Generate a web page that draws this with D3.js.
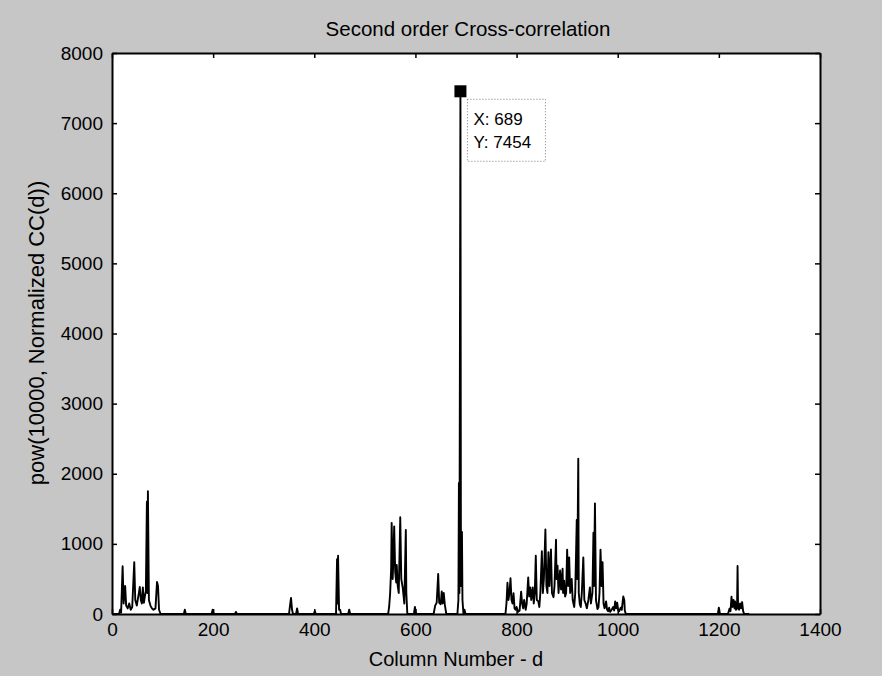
<!DOCTYPE html>
<html>
<head>
<meta charset="utf-8">
<script src="https://cdn.jsdelivr.net/npm/d3@7"></script>
<style>
  html, body { margin: 0; padding: 0; background: #c6c6c6; }
  svg text { font-family: "Liberation Sans", Arial, sans-serif; fill: #000; }
</style>
</head>
<body>
<figure id="cc" style="margin:0"></figure>
<script>
// column number d and pow(10000, normalized CC(d)), one small list per region
const leftD = [1, 14, 16, 18, 21, 23, 26, 28, 31, 34, 37, 40, 44, 46, 49, 52, 55, 57, 59, 61, 63, 65, 67, 69, 70, 71, 73, 76, 79, 82, 86, 89, 91, 93, 96];
const leftV = [0, 0, 60, 20, 680, 150, 400, 120, 80, 150, 60, 100, 740, 200, 120, 250, 385, 200, 150, 380, 160, 250, 330, 1600, 300, 1750, 200, 120, 80, 60, 80, 456, 400, 60, 0];

const lowD = [142, 144, 146, 197, 199, 201, 243, 245, 247, 350, 352, 354, 356, 358, 364, 366, 368, 399, 401, 403, 443, 445, 446, 447, 449, 451, 453, 467, 469, 471];
const lowV = [0, 60, 0, 0, 60, 0, 0, 30, 0, 0, 120, 230, 60, 0, 0, 80, 0, 0, 40, 0, 0, 780, 150, 830, 60, 60, 0, 0, 60, 0];

const midD = [546, 548, 550, 552, 553, 555, 556, 558, 560, 562, 563, 565, 567, 570, 572, 575, 578, 581, 582, 584, 597, 599, 601, 636, 639, 642, 645, 647, 650, 652, 654, 656, 658, 661];
const midV = [0, 100, 300, 650, 1300, 500, 700, 1250, 600, 450, 700, 400, 300, 1380, 500, 370, 150, 1200, 300, 0, 0, 100, 0, 0, 120, 160, 570, 160, 140, 320, 150, 300, 140, 0];

const peakD = [683, 685, 686, 687, 689, 690, 692, 693, 695, 697, 699];
const peakV = [0, 200, 1870, 300, 7454, 400, 1170, 200, 0, 60, 0];

const clusterD = [778, 780, 782, 784, 786, 788, 790, 792, 794, 796, 798, 800, 803, 806, 809, 811, 813, 815, 818, 820, 823, 825, 827, 829, 832, 834, 836, 838, 840, 843, 845, 847, 850, 852, 854, 857, 859, 861, 863, 865, 868, 870, 873, 875, 878, 879, 881, 883, 886, 888, 891, 892, 894, 896, 898, 900, 902, 904, 906, 909, 911, 914, 916, 919, 920, 922, 923, 925, 927, 929, 932, 934, 937, 939, 942, 945, 947, 950, 952, 953, 955, 957, 960, 962, 964, 966, 968, 970, 972, 974, 977, 979, 981, 983, 985, 988, 991, 993, 995, 997, 999, 1001, 1003, 1006, 1008, 1011, 1013, 1014, 1016];
const clusterV = [0, 150, 446, 200, 300, 509, 200, 150, 295, 80, 60, 100, 30, 50, 318, 150, 80, 200, 60, 150, 520, 250, 380, 200, 380, 150, 300, 832, 200, 180, 100, 300, 895, 300, 500, 1204, 400, 300, 880, 400, 920, 300, 240, 400, 1058, 500, 690, 300, 620, 350, 645, 300, 475, 250, 300, 918, 400, 808, 300, 500, 200, 100, 300, 1340, 500, 2216, 300, 140, 100, 300, 808, 200, 140, 80, 200, 380, 150, 300, 1160, 400, 1578, 200, 70, 100, 300, 918, 400, 740, 150, 80, 180, 60, 40, 90, 30, 60, 100, 50, 180, 80, 160, 50, 40, 90, 60, 250, 200, 50, 0];

const tailD = [1198, 1200, 1202, 1218, 1221, 1223, 1225, 1227, 1229, 1231, 1232, 1234, 1236, 1237, 1238, 1240, 1242, 1244, 1246, 1248, 1250, 1260];
const tailV = [0, 90, 0, 0, 75, 40, 245, 100, 200, 80, 180, 60, 100, 685, 80, 60, 150, 80, 170, 40, 0, 0];

const xTicks = [0, 200, 400, 600, 800, 1000, 1200, 1400];
const yTicks = [0, 1000, 2000, 3000, 4000, 5000, 6000, 7000, 8000];
const tipX = 689, tipY = 7454;

const W = 882, H = 676;
const plotL = 112, plotR = 820, plotT = 53, plotB = 614;

const svg = d3.select("figure#cc")
  .append("svg")
  .attr("width", W)
  .attr("height", H);

svg.append("rect").attr("width", W).attr("height", H).attr("fill", "#c6c6c6");

const x = d3.scaleLinear().domain([0, 1400]).range([plotL, plotR]);
const y = d3.scaleLinear().domain([0, 8000]).range([plotB, plotT]);

// plot area
svg.append("rect")
  .attr("x", plotL).attr("y", plotT)
  .attr("width", plotR - plotL).attr("height", plotB - plotT)
  .attr("fill", "#fff");

// build the series from the region lists
const pts = [];
[[leftD, leftV], [lowD, lowV], [midD, midV], [peakD, peakV], [clusterD, clusterV], [tailD, tailV]]
  .forEach(([ds, vs]) => ds.forEach((d, i) => pts.push([d, vs[i]])));
pts.sort((a, b) => a[0] - b[0]);

const line = d3.line().x(d => x(d[0])).y(d => y(d[1]));
svg.append("path")
  .datum(pts)
  .attr("d", line)
  .attr("fill", "none")
  .attr("stroke", "#000")
  .attr("stroke-width", 1.9)
  .attr("stroke-linejoin", "round");

// axes, MATLAB style box with inward ticks
const styleAxis = g => {
  g.attr("font-family", null).attr("font-size", null);
  g.select(".domain").attr("stroke", "#000").attr("stroke-width", 2);
  g.selectAll(".tick line").attr("stroke", "#000").attr("stroke-width", 1.5);
  g.selectAll("text").style("font-size", "19px").attr("fill", "#000");
};

const fmt = d3.format("d");

svg.append("g")
  .attr("transform", `translate(0,${plotB})`)
  .call(d3.axisBottom(x).tickValues(xTicks).tickFormat(fmt).tickSizeInner(-5).tickSizeOuter(0).tickPadding(9))
  .call(styleAxis);

svg.append("g")
  .attr("transform", `translate(0,${plotT})`)
  .call(d3.axisTop(x).tickValues(xTicks).tickSizeInner(-5).tickSizeOuter(0).tickFormat(""))
  .call(styleAxis);

svg.append("g")
  .attr("transform", `translate(${plotL},0)`)
  .call(d3.axisLeft(y).tickValues(yTicks).tickFormat(fmt).tickSizeInner(-5).tickSizeOuter(0).tickPadding(9))
  .call(styleAxis);

svg.append("g")
  .attr("transform", `translate(${plotR},0)`)
  .call(d3.axisRight(y).tickValues(yTicks).tickSizeInner(-5).tickSizeOuter(0).tickFormat(""))
  .call(styleAxis);

// title and labels
svg.append("text")
  .attr("x", (plotL + plotR) / 2 + 2).attr("y", 36)
  .attr("text-anchor", "middle")
  .style("font-size", "20.5px")
  .text("Second order Cross-correlation");

svg.append("text")
  .attr("x", (plotL + plotR) / 2 - 10).attr("y", 666)
  .attr("text-anchor", "middle")
  .style("font-size", "20px")
  .text("Column Number - d");

svg.append("text")
  .attr("transform", "translate(44,333) rotate(-90)")
  .attr("text-anchor", "middle")
  .style("font-size", "22px")
  .text("pow(10000, Normalized CC(d))");

// data tip
svg.append("rect")
  .attr("x", x(tipX) - 6).attr("y", y(tipY) - 6)
  .attr("width", 12).attr("height", 12)
  .attr("fill", "#000");

const tip = svg.append("g").attr("transform", `translate(${x(tipX) + 7},${y(tipY) + 8})`);
tip.append("rect")
  .attr("width", 78).attr("height", 62)
  .attr("fill", "#fff")
  .attr("stroke", "#777")
  .attr("stroke-width", 1)
  .attr("stroke-dasharray", "1,2");
tip.append("text").attr("x", 6).attr("y", 26).style("font-size", "17px").text("X: " + tipX);
tip.append("text").attr("x", 6).attr("y", 49).style("font-size", "17px").text("Y: " + tipY);
</script>
</body>
</html>
